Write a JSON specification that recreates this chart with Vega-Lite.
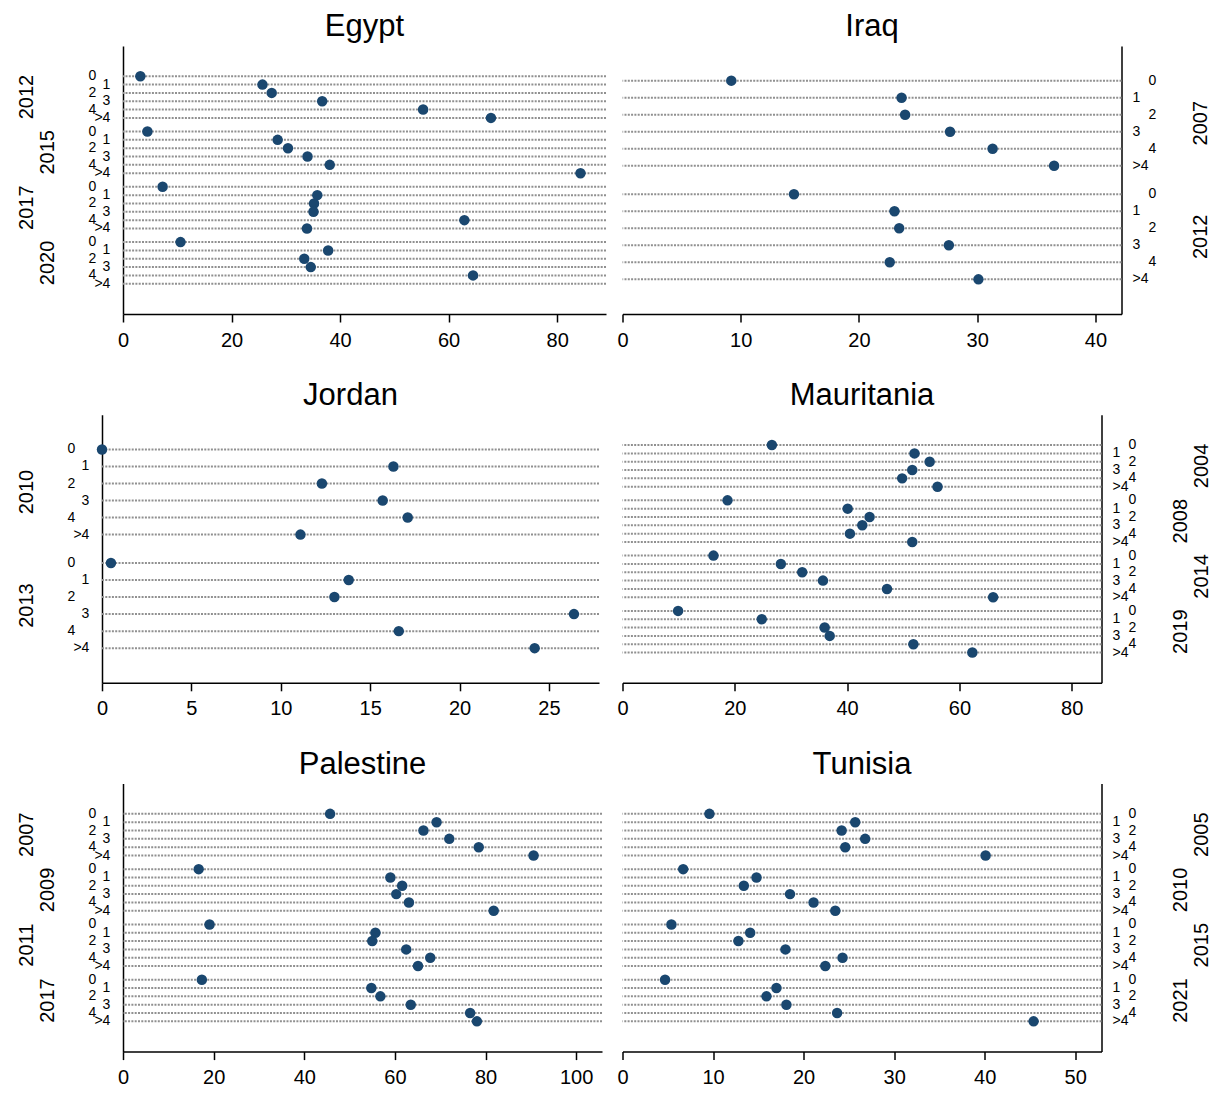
{
"$schema": "https://vega.github.io/schema/vega-lite/v6.json",
"padding": {"left": 0, "top": 11, "right": 5, "bottom": 5},
"background": "white",
"datasets": {
"empty": [],
"egypt": [
{"year":"2012","g":"0","v":3.2},{"year":"2012","g":"1","v":25.7},{"year":"2012","g":"2","v":27.4},{"year":"2012","g":"3","v":36.7},{"year":"2012","g":"4","v":55.3},{"year":"2012","g":">4","v":67.8},
{"year":"2015","g":"0","v":4.5},{"year":"2015","g":"1","v":28.5},{"year":"2015","g":"2","v":30.4},{"year":"2015","g":"3","v":34.0},{"year":"2015","g":"4","v":38.1},{"year":"2015","g":">4","v":84.3},
{"year":"2017","g":"0","v":7.3},{"year":"2017","g":"1","v":35.8},{"year":"2017","g":"2","v":35.2},{"year":"2017","g":"3","v":35.1},{"year":"2017","g":"4","v":62.9},{"year":"2017","g":">4","v":33.9},
{"year":"2020","g":"0","v":10.6},{"year":"2020","g":"1","v":37.8},{"year":"2020","g":"2","v":33.4},{"year":"2020","g":"3","v":34.6},{"year":"2020","g":"4","v":64.5},{"year":"2020","g":">4","v":null}
],
"iraq": [
{"year":"2007","g":"0","v":9.2},{"year":"2007","g":"1","v":23.6},{"year":"2007","g":"2","v":23.9},{"year":"2007","g":"3","v":27.7},{"year":"2007","g":"4","v":31.3},{"year":"2007","g":">4","v":36.5},
{"year":"2012","g":"0","v":14.5},{"year":"2012","g":"1","v":23.0},{"year":"2012","g":"2","v":23.4},{"year":"2012","g":"3","v":27.6},{"year":"2012","g":"4","v":22.6},{"year":"2012","g":">4","v":30.1}
],
"jordan": [
{"year":"2010","g":"0","v":0.0},{"year":"2010","g":"1","v":16.3},{"year":"2010","g":"2","v":12.3},{"year":"2010","g":"3","v":15.7},{"year":"2010","g":"4","v":17.1},{"year":"2010","g":">4","v":11.1},
{"year":"2013","g":"0","v":0.5},{"year":"2013","g":"1","v":13.8},{"year":"2013","g":"2","v":13.0},{"year":"2013","g":"3","v":26.4},{"year":"2013","g":"4","v":16.6},{"year":"2013","g":">4","v":24.2}
],
"mauritania": [
{"year":"2004","g":"0","v":26.6},{"year":"2004","g":"1","v":52.0},{"year":"2004","g":"2","v":54.7},{"year":"2004","g":"3","v":51.6},{"year":"2004","g":"4","v":49.8},{"year":"2004","g":">4","v":56.1},
{"year":"2008","g":"0","v":18.7},{"year":"2008","g":"1","v":40.1},{"year":"2008","g":"2","v":44.0},{"year":"2008","g":"3","v":42.7},{"year":"2008","g":"4","v":40.5},{"year":"2008","g":">4","v":51.6},
{"year":"2014","g":"0","v":16.2},{"year":"2014","g":"1","v":28.2},{"year":"2014","g":"2","v":32.0},{"year":"2014","g":"3","v":35.7},{"year":"2014","g":"4","v":47.1},{"year":"2014","g":">4","v":66.0},
{"year":"2019","g":"0","v":9.9},{"year":"2019","g":"1","v":24.8},{"year":"2019","g":"2","v":36.0},{"year":"2019","g":"3","v":36.9},{"year":"2019","g":"4","v":51.8},{"year":"2019","g":">4","v":62.3}
],
"palestine": [
{"year":"2007","g":"0","v":45.7},{"year":"2007","g":"1","v":69.2},{"year":"2007","g":"2","v":66.3},{"year":"2007","g":"3","v":72.0},{"year":"2007","g":"4","v":78.5},{"year":"2007","g":">4","v":90.6},
{"year":"2009","g":"0","v":16.7},{"year":"2009","g":"1","v":59.0},{"year":"2009","g":"2","v":61.6},{"year":"2009","g":"3","v":60.3},{"year":"2009","g":"4","v":63.1},{"year":"2009","g":">4","v":81.8},
{"year":"2011","g":"0","v":19.1},{"year":"2011","g":"1","v":55.7},{"year":"2011","g":"2","v":55.0},{"year":"2011","g":"3","v":62.5},{"year":"2011","g":"4","v":67.8},{"year":"2011","g":">4","v":65.1},
{"year":"2017","g":"0","v":17.4},{"year":"2017","g":"1","v":54.8},{"year":"2017","g":"2","v":56.8},{"year":"2017","g":"3","v":63.5},{"year":"2017","g":"4","v":76.6},{"year":"2017","g":">4","v":78.1}
],
"tunisia": [
{"year":"2005","g":"0","v":9.6},{"year":"2005","g":"1","v":25.7},{"year":"2005","g":"2","v":24.2},{"year":"2005","g":"3","v":26.8},{"year":"2005","g":"4","v":24.6},{"year":"2005","g":">4","v":40.1},
{"year":"2010","g":"0","v":6.7},{"year":"2010","g":"1","v":14.8},{"year":"2010","g":"2","v":13.4},{"year":"2010","g":"3","v":18.5},{"year":"2010","g":"4","v":21.1},{"year":"2010","g":">4","v":23.5},
{"year":"2015","g":"0","v":5.4},{"year":"2015","g":"1","v":14.1},{"year":"2015","g":"2","v":12.8},{"year":"2015","g":"3","v":18.0},{"year":"2015","g":"4","v":24.3},{"year":"2015","g":">4","v":22.4},
{"year":"2021","g":"0","v":4.7},{"year":"2021","g":"1","v":17.0},{"year":"2021","g":"2","v":15.9},{"year":"2021","g":"3","v":18.1},{"year":"2021","g":"4","v":23.7},{"year":"2021","g":">4","v":45.4}
]
},
"bounds": "flush",
"spacing": 368.8,
"resolve": {"scale": {"yOffset": "independent", "y": "independent", "x": "independent"}},
"vconcat": [
{"spacing": 15, "resolve": {"scale": {"yOffset": "independent", "y": "independent", "x": "independent"}}, "hconcat": [
{"width": 1, "height": 1, "data": {"name": "empty"}, "mark": {"type": "point", "opacity": 0}},
{"spacing": 9.5, "resolve": {"scale": {"yOffset": "independent", "y": "independent", "x": "independent"}}, "hconcat": [
{"width": 483, "height": 268, "data": {"name": "egypt"}, "title": {"text": "Egypt"},
 "encoding": {
  "y": {"field": "year", "type": "ordinal", "scale": {"paddingInner": 0.096, "paddingOuter": 0.472},
        "axis": {"orient": "left", "title": null, "ticks": false, "tickSize": 0, "labelAngle": -90, "labelAlign": "center", "labelBaseline": "bottom", "labelFontSize": 20,
                 "labelPadding": {"condition": {"test": "datum.value == '2012' || datum.value == '2017'", "value": 86.6}, "value": 65.6}}},
  "yOffset": {"field": "g", "type": "nominal", "scale": {"domain": ["0","1","2","3","4",">4"], "paddingInner": 0, "paddingOuter": 0}}
 },
 "layer": [
  {"mark": {"type": "rule", "stroke": "#909090", "strokeWidth": 2, "strokeDash": [2, 1.3]}, "encoding": {}},
  {"mark": {"type": "circle", "size": 110, "color": "#1a476f", "opacity": 1}, "encoding": {"x": {"field": "v", "type": "quantitative", "scale": {"domain": [0, 89], "nice": false}, "axis": {"title": null, "values": [0,20,40,60,80], "tickSize": 8, "labelFontSize": 20, "labelPadding": 8, "labelFlush": false, "labelOverlap": false}}}},
  {"transform": [{"filter": "datum.g == '0' || datum.g == '2' || datum.g == '4'"}], "mark": {"type": "text", "align": "right", "baseline": "middle", "dx": -26.6, "fontSize": 14, "color": "black"}, "encoding": {"x": {"datum": 0}, "text": {"field": "g"}}},
  {"transform": [{"filter": "datum.g == '1' || datum.g == '3' || datum.g == '>4'"}], "mark": {"type": "text", "align": "right", "baseline": "middle", "dx": -12.6, "fontSize": 14, "color": "black"}, "encoding": {"x": {"datum": 0}, "text": {"field": "g"}}}
 ]},
{"width": 499, "height": 268, "data": {"name": "iraq"}, "title": {"text": "Iraq"},
 "encoding": {
  "y": {"field": "year", "type": "ordinal", "scale": {"paddingInner": 0.1, "paddingOuter": 0.23},
        "axis": {"orient": "right", "title": null, "ticks": false, "tickSize": 0, "labelAngle": -90, "labelAlign": "center", "labelBaseline": "top", "labelFontSize": 20, "labelPadding": 69.4}},
  "yOffset": {"field": "g", "type": "nominal", "scale": {"domain": ["0","1","2","3","4",">4"], "paddingInner": 0, "paddingOuter": 0}}
 },
 "layer": [
  {"mark": {"type": "rule", "stroke": "#909090", "strokeWidth": 2, "strokeDash": [2, 1.3]}, "encoding": {}},
  {"mark": {"type": "circle", "size": 110, "color": "#1a476f", "opacity": 1}, "encoding": {"x": {"field": "v", "type": "quantitative", "scale": {"domain": [0, 42.2], "nice": false}, "axis": {"title": null, "values": [0,10,20,30,40], "tickSize": 8, "labelFontSize": 20, "labelPadding": 8, "labelFlush": false, "labelOverlap": false}}}},
  {"transform": [{"filter": "datum.g == '0' || datum.g == '2' || datum.g == '4'"}], "mark": {"type": "text", "align": "left", "baseline": "middle", "dx": 27, "fontSize": 14, "color": "black"}, "encoding": {"x": {"datum": 42.2}, "text": {"field": "g"}}},
  {"transform": [{"filter": "datum.g == '1' || datum.g == '3' || datum.g == '>4'"}], "mark": {"type": "text", "align": "left", "baseline": "middle", "dx": 11, "fontSize": 14, "color": "black"}, "encoding": {"x": {"datum": 42.2}, "text": {"field": "g"}}}
 ]}
]}
]},
{"spacing": 15, "resolve": {"scale": {"yOffset": "independent", "y": "independent", "x": "independent"}}, "hconcat": [
{"width": 1, "height": 1, "data": {"name": "empty"}, "mark": {"type": "point", "opacity": 0}},
{"spacing": 16.5, "resolve": {"scale": {"yOffset": "independent", "y": "independent", "x": "independent"}}, "hconcat": [
{"width": 497, "height": 268, "data": {"name": "jordan"}, "title": {"text": "Jordan"},
 "encoding": {
  "y": {"field": "year", "type": "ordinal", "scale": {"paddingInner": 0.1, "paddingOuter": 0.23},
        "axis": {"orient": "left", "title": null, "ticks": false, "tickSize": 0, "labelAngle": -90, "labelAlign": "center", "labelBaseline": "bottom", "labelFontSize": 20, "labelPadding": 65.6}},
  "yOffset": {"field": "g", "type": "nominal", "scale": {"domain": ["0","1","2","3","4",">4"], "paddingInner": 0, "paddingOuter": 0}}
 },
 "layer": [
  {"mark": {"type": "rule", "stroke": "#909090", "strokeWidth": 2, "strokeDash": [2, 1.3]}, "encoding": {}},
  {"mark": {"type": "circle", "size": 110, "color": "#1a476f", "opacity": 1}, "encoding": {"x": {"field": "v", "type": "quantitative", "scale": {"domain": [0, 27.8], "nice": false}, "axis": {"title": null, "values": [0,5,10,15,20,25], "tickSize": 8, "labelFontSize": 20, "labelPadding": 8, "labelFlush": false, "labelOverlap": false}}}},
  {"transform": [{"filter": "datum.g == '0' || datum.g == '2' || datum.g == '4'"}], "mark": {"type": "text", "align": "right", "baseline": "middle", "dx": -26.6, "fontSize": 14, "color": "black"}, "encoding": {"x": {"datum": 0}, "text": {"field": "g"}}},
  {"transform": [{"filter": "datum.g == '1' || datum.g == '3' || datum.g == '>4'"}], "mark": {"type": "text", "align": "right", "baseline": "middle", "dx": -12.6, "fontSize": 14, "color": "black"}, "encoding": {"x": {"datum": 0}, "text": {"field": "g"}}}
 ]},
{"width": 479, "height": 268, "data": {"name": "mauritania"}, "title": {"text": "Mauritania"},
 "encoding": {
  "y": {"field": "year", "type": "ordinal", "scale": {"paddingInner": 0.096, "paddingOuter": 0.472},
        "axis": {"orient": "right", "title": null, "ticks": false, "tickSize": 0, "labelAngle": -90, "labelAlign": "center", "labelBaseline": "top", "labelFontSize": 20,
                 "labelPadding": {"condition": {"test": "datum.value == '2004' || datum.value == '2014'", "value": 89.5}, "value": 68.5}}},
  "yOffset": {"field": "g", "type": "nominal", "scale": {"domain": ["0","1","2","3","4",">4"], "paddingInner": 0, "paddingOuter": 0}}
 },
 "layer": [
  {"mark": {"type": "rule", "stroke": "#909090", "strokeWidth": 2, "strokeDash": [2, 1.3]}, "encoding": {}},
  {"mark": {"type": "circle", "size": 110, "color": "#1a476f", "opacity": 1}, "encoding": {"x": {"field": "v", "type": "quantitative", "scale": {"domain": [0, 85.3], "nice": false}, "axis": {"title": null, "values": [0,20,40,60,80], "tickSize": 8, "labelFontSize": 20, "labelPadding": 8, "labelFlush": false, "labelOverlap": false}}}},
  {"transform": [{"filter": "datum.g == '0' || datum.g == '2' || datum.g == '4'"}], "mark": {"type": "text", "align": "left", "baseline": "middle", "dx": 27, "fontSize": 14, "color": "black"}, "encoding": {"x": {"datum": 85.3}, "text": {"field": "g"}}},
  {"transform": [{"filter": "datum.g == '1' || datum.g == '3' || datum.g == '>4'"}], "mark": {"type": "text", "align": "left", "baseline": "middle", "dx": 11, "fontSize": 14, "color": "black"}, "encoding": {"x": {"datum": 85.3}, "text": {"field": "g"}}}
 ]}
]}
]},
{"spacing": 15, "resolve": {"scale": {"yOffset": "independent", "y": "independent", "x": "independent"}}, "hconcat": [
{"width": 1, "height": 1, "data": {"name": "empty"}, "mark": {"type": "point", "opacity": 0}},
{"spacing": 13.5, "resolve": {"scale": {"yOffset": "independent", "y": "independent", "x": "independent"}}, "hconcat": [
{"width": 479, "height": 268, "data": {"name": "palestine"}, "title": {"text": "Palestine"},
 "encoding": {
  "y": {"field": "year", "type": "ordinal", "scale": {"paddingInner": 0.096, "paddingOuter": 0.472},
        "axis": {"orient": "left", "title": null, "ticks": false, "tickSize": 0, "labelAngle": -90, "labelAlign": "center", "labelBaseline": "bottom", "labelFontSize": 20,
                 "labelPadding": {"condition": {"test": "datum.value == '2007' || datum.value == '2011'", "value": 86.6}, "value": 65.6}}},
  "yOffset": {"field": "g", "type": "nominal", "scale": {"domain": ["0","1","2","3","4",">4"], "paddingInner": 0, "paddingOuter": 0}}
 },
 "layer": [
  {"mark": {"type": "rule", "stroke": "#909090", "strokeWidth": 2, "strokeDash": [2, 1.3]}, "encoding": {}},
  {"mark": {"type": "circle", "size": 110, "color": "#1a476f", "opacity": 1}, "encoding": {"x": {"field": "v", "type": "quantitative", "scale": {"domain": [0, 105.7], "nice": false}, "axis": {"title": null, "values": [0,20,40,60,80,100], "tickSize": 8, "labelFontSize": 20, "labelPadding": 8, "labelFlush": false, "labelOverlap": false}}}},
  {"transform": [{"filter": "datum.g == '0' || datum.g == '2' || datum.g == '4'"}], "mark": {"type": "text", "align": "right", "baseline": "middle", "dx": -26.6, "fontSize": 14, "color": "black"}, "encoding": {"x": {"datum": 0}, "text": {"field": "g"}}},
  {"transform": [{"filter": "datum.g == '1' || datum.g == '3' || datum.g == '>4'"}], "mark": {"type": "text", "align": "right", "baseline": "middle", "dx": -12.6, "fontSize": 14, "color": "black"}, "encoding": {"x": {"datum": 0}, "text": {"field": "g"}}}
 ]},
{"width": 479, "height": 268, "data": {"name": "tunisia"}, "title": {"text": "Tunisia"},
 "encoding": {
  "y": {"field": "year", "type": "ordinal", "scale": {"paddingInner": 0.096, "paddingOuter": 0.472},
        "axis": {"orient": "right", "title": null, "ticks": false, "tickSize": 0, "labelAngle": -90, "labelAlign": "center", "labelBaseline": "top", "labelFontSize": 20,
                 "labelPadding": {"condition": {"test": "datum.value == '2005' || datum.value == '2015'", "value": 89.5}, "value": 68.5}}},
  "yOffset": {"field": "g", "type": "nominal", "scale": {"domain": ["0","1","2","3","4",">4"], "paddingInner": 0, "paddingOuter": 0}}
 },
 "layer": [
  {"mark": {"type": "rule", "stroke": "#909090", "strokeWidth": 2, "strokeDash": [2, 1.3]}, "encoding": {}},
  {"mark": {"type": "circle", "size": 110, "color": "#1a476f", "opacity": 1}, "encoding": {"x": {"field": "v", "type": "quantitative", "scale": {"domain": [0, 52.9], "nice": false}, "axis": {"title": null, "values": [0,10,20,30,40,50], "tickSize": 8, "labelFontSize": 20, "labelPadding": 8, "labelFlush": false, "labelOverlap": false}}}},
  {"transform": [{"filter": "datum.g == '0' || datum.g == '2' || datum.g == '4'"}], "mark": {"type": "text", "align": "left", "baseline": "middle", "dx": 27, "fontSize": 14, "color": "black"}, "encoding": {"x": {"datum": 52.9}, "text": {"field": "g"}}},
  {"transform": [{"filter": "datum.g == '1' || datum.g == '3' || datum.g == '>4'"}], "mark": {"type": "text", "align": "left", "baseline": "middle", "dx": 11, "fontSize": 14, "color": "black"}, "encoding": {"x": {"datum": 52.9}, "text": {"field": "g"}}}
 ]}
]}
]}
],
"config": {
 "view": {"stroke": null},
 "font": "Liberation Sans",
 "text": {"font": "Liberation Sans"},
 "title": {"fontSize": 31, "fontWeight": "normal", "font": "Liberation Sans", "frame": "group", "anchor": "middle", "offset": 3, "baseline": "alphabetic", "color": "black"},
 "axis": {"labelFont": "Liberation Sans", "labelColor": "black", "domainColor": "black", "tickColor": "black", "grid": false, "domainWidth": 1.5, "tickWidth": 1.5}
}
}
